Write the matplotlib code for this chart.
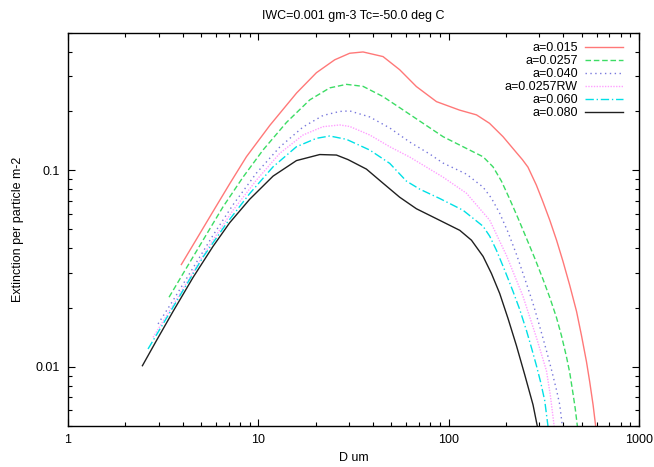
import matplotlib.pyplot as plt

plt.rcParams['font.family'] = ['Liberation Sans', 'DejaVu Sans']
plt.rcParams['font.size'] = 9

labels = ['a=0.015', 'a=0.0257', 'a=0.040', 'a=0.0257RW', 'a=0.060', 'a=0.080']

# D (um) and extinction per particle (m-2)
d_015 = [3.94, 4.73, 5.78, 7.07, 8.66, 11.5, 15.9, 20.2, 25.2, 30.2, 35.5, 45.2, 55.3, 67.7, 86.3,
         114, 140, 164, 193, 227, 244, 261, 289, 312, 340, 369, 399, 433, 470, 499, 530, 551, 574,
         593, 604]
e_015 = [0.0331, 0.0445, 0.0616, 0.0852, 0.117, 0.169, 0.247, 0.313, 0.364, 0.393, 0.399, 0.378, 0.324,
         0.266, 0.223, 0.202, 0.191, 0.173, 0.148, 0.1228, 0.1131, 0.1036, 0.0839, 0.0695, 0.0556,
         0.044, 0.0343, 0.0259, 0.0191, 0.0144, 0.0106, 0.00839, 0.0064, 0.00494, 0.00434]

d_0257 = [3.395, 4.02, 5.12, 6.52, 8.31, 10.58, 14.05, 18.63, 23.73, 29.04, 35.5, 45.2, 57.6, 73.4,
          93.5, 119, 151.7, 171.1, 189.4, 209.5, 231.6, 256.4, 283.5, 313.4, 339.9, 368.6, 391.5,
          415.9, 432.9, 450.5, 462.7, 475.2, 482.7]
e_0257 = [0.02257, 0.02972, 0.044, 0.065, 0.0921, 0.1265, 0.1747, 0.2276, 0.262, 0.273, 0.2667, 0.2366,
          0.2024, 0.173, 0.1479, 0.1315, 0.1169, 0.1039, 0.0879, 0.0711, 0.0569, 0.045, 0.0356, 0.0278,
          0.0225, 0.0178, 0.0144, 0.01125, 0.00932, 0.00728, 0.00611, 0.00494, 0.00434]

d_040 = [2.972, 3.562, 4.538, 5.78, 7.364, 9.772, 12.96, 17.18, 21.88, 26.78, 30.22, 38.49, 49.04,
         62.46, 79.57, 93.45, 107.7, 124, 151.7, 167.8, 185.5, 205.2, 227.1, 251.1, 277.6, 301.1,
         326.5, 346.9, 368.6, 383.6, 396.3, 402.6]
e_040 = [0.01651, 0.02172, 0.03181, 0.0466, 0.06668, 0.0966, 0.131, 0.1657, 0.1897, 0.1988, 0.2, 0.1864,
         0.1638, 0.1389, 0.1207, 0.1086, 0.1018, 0.0954, 0.0819, 0.072, 0.0603, 0.0483, 0.0373, 0.0281,
         0.02097, 0.016, 0.01207, 0.00966, 0.00763, 0.0064, 0.00494, 0.00434]

d_0257rw = [2.797, 3.422, 4.361, 5.554, 7.364, 9.772, 12.96, 17.18, 21.88, 26.78, 30.22, 38.49, 49.04,
            62.46, 74.9, 93.45, 124, 164.4, 201.3, 246, 289.3, 326.5, 341.9, 358.9, 365.5]
e_0257rw = [0.01411, 0.0193, 0.02844, 0.04169, 0.0625, 0.0889, 0.1217, 0.1509, 0.1663, 0.1697, 0.1667,
            0.1509, 0.1315, 0.1165, 0.1048, 0.0921, 0.0763, 0.0556, 0.0368, 0.02276, 0.01406, 0.00954,
            0.0072, 0.00494, 0.00434]

d_060 = [2.633, 3.157, 4.02, 5.12, 6.8, 9.01, 11.95, 15.86, 20.2, 23.73, 29.04, 38.49, 49.04, 60,
         70.5, 89.8, 119, 151.7, 164.4, 178.3, 197.2, 218, 236.4, 256.4, 272.3, 289.3, 304.8, 319.9,
         333, 337.9]
e_060 = [0.01231, 0.01651, 0.02442, 0.0361, 0.0535, 0.076, 0.1039, 0.1315, 0.1451, 0.1491, 0.1434,
         0.1265, 0.1082, 0.0879, 0.08, 0.0717, 0.0625, 0.0518, 0.0461, 0.0391, 0.0309, 0.02413, 0.01953,
         0.01527, 0.0125, 0.01012, 0.00829, 0.00671, 0.00494, 0.00434]

d_080 = [2.46, 2.914, 3.562, 4.538, 5.78, 7.072, 9.01, 11.95, 15.86, 21.02, 25.73, 29.6, 36.98, 45.2,
         55.3, 67.7, 86.3, 114.4, 131.8, 151.7, 167.8, 185.5, 205.2, 227.1, 251.1, 277.6, 292.9, 299.3]
e_080 = [0.01012, 0.01357, 0.01909, 0.02844, 0.04095, 0.054, 0.0711, 0.0932, 0.1118, 0.12, 0.1193,
         0.1131, 0.1012, 0.0858, 0.0728, 0.0636, 0.0566, 0.0494, 0.044, 0.0364, 0.02981, 0.02357,
         0.01757, 0.0128, 0.0091, 0.0064, 0.00494, 0.00434]

xs = [d_015, d_0257, d_040, d_0257rw, d_060, d_080]
ys = [e_015, e_0257, e_040, e_0257rw, e_060, e_080]
cores = ['#ff7878', '#3cdc64', '#7878dc', '#ffa0ff', '#00e0e6', '#202020']
estilos = ['-', (0, (4, 2)), (0, (1, 2.5)), (0, (1, 1)), (0, (6, 2, 1, 2)), '-']

fig = plt.figure(figsize=(6.54, 4.67), dpi=100)
ax = fig.add_axes([0.104, 0.088, 0.873, 0.842])

for x, y, c, ls, lab in zip(xs, ys, cores, estilos, labels):
    ax.plot(x, y, color=c, linestyle=ls, linewidth=1.0, label=lab)

ax.set_xscale('log')
ax.set_yscale('log')
ax.set_xlim(1, 1000)
ax.set_ylim(0.005, 0.5)
ax.set_xticks([1, 10, 100, 1000])
ax.set_xticklabels(['1', '10', '100', '1000'])
ax.set_yticks([0.01, 0.1])
ax.set_yticklabels(['0.01', '0.1'])
ax.tick_params(which='both', direction='in', top=True, right=True, width=0.8)
ax.tick_params(which='major', length=5, pad=6)
ax.tick_params(which='minor', length=3)
for s in ax.spines.values():
    s.set_linewidth(1.0)

ax.set_title('IWC=0.001 gm-3 Tc=-50.0 deg C', pad=10, fontsize=9)
ax.set_xlabel('D um', labelpad=4)
ax.set_ylabel('Extinction per particle m-2', labelpad=8)

ax.legend(loc='upper right', bbox_to_anchor=(0.985, 0.995), frameon=False, markerfirst=False,
          handlelength=3.0, handletextpad=0.6, labelspacing=0.08, borderaxespad=0.2)

plt.savefig('out.png', dpi=100)
